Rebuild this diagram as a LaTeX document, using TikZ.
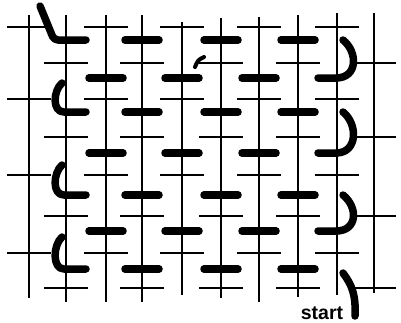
\documentclass[tikz,border=0pt]{standalone}
\usepackage{fontspec}
\setmainfont{Liberation Sans}
\begin{document}
\begin{tikzpicture}[x=1pt,y=-1pt,
  fil/.style={line width=2.2pt},
  point/.style={line width=7.5pt,line cap=round},
  boucle/.style={line width=7.5pt,line cap=round,line join=round}]
% Reprise : chaine, trame et fil de reprise
\useasboundingbox (0,0) rectangle (401,322);
\foreach \x/\h/\b in {29/15/298,66/15/302,106/15/302,142/15/302,182/22/295,221/18/298,259/17/302,298/15/297,337/13/295,374/13/293}
  \draw[fil] (\x,\h) -- (\x,\b);
\foreach \y in {27,99,175,253}
  \foreach \x in {29,106,182,259,337}
    \draw[fil] (\x-22,\y) -- (\x+22,\y);
\foreach \y in {63,137,216,288}
  \foreach \x in {66,142,221,298,374}
    \draw[fil] (\x-22,\y) -- (\x+22,\y);
\foreach \y in {40,112,195,269}
  \foreach \x in {142,221,298}
    \draw[point] (\x-17,\y) -- (\x+17,\y);
\foreach \y in {78,153,231}
  \foreach \x in {106,182,259}
    \draw[point] (\x-17,\y) -- (\x+17,\y);
% boucles a droite
\foreach \y/\z in {40/78,112/153,195/231}
  \draw[boucle] (343,\y) .. controls (358,\y+12) and (358,\z) .. (336,\z) -- (318,\z);
% boucles a gauche
\foreach \t/\z in {83/112,165/195,237/269}
  \draw[boucle] (62,\t) .. controls (53,\t+8) and (52,\z) .. (64,\z) -- (86,\z);
\draw[boucle,rounded corners=4pt] (40,6) -- (54,40) -- (86,40);
\draw[boucle] (343,273) .. controls (352,285) and (356,295) .. (355,316);
\draw[line width=4pt,line cap=round] (195,67) .. controls (198,60) .. (204,57);
\node[font=\fontsize{19.5}{19.5}\selectfont\bfseries,anchor=base] (debut) at (322,319) {start};
\end{tikzpicture}
\end{document}
